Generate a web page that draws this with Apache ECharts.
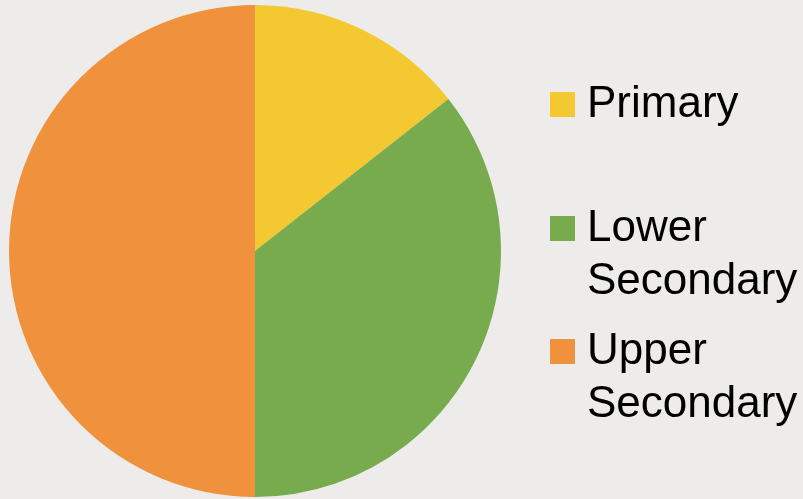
<!DOCTYPE html>
<html>
<head>
<meta charset="utf-8">
<script src="https://cdn.jsdelivr.net/npm/echarts@6/dist/echarts.min.js"></script>
<style>
  html, body { margin: 0; padding: 0; background: #edecea; }
  #chart { width: 803px; height: 499px; }
</style>
</head>
<body>
<div id="chart"></div>
<script>
const categories = ["Primary", "Lower Secondary", "Upper Secondary"];
// a leading blank line keeps the swatch level with the first line of text
const legendLabels = ["Primary", "\nLower\nSecondary", "\nUpper\nSecondary"];
const shares = [14.4, 35.6, 50];
const colors = ["#f4c830", "#77ab4d", "#f0923d"];

const chart = echarts.init(document.getElementById("chart"));

const lineH = 53;
const legendTops = [78, 149, 272];

const legends = categories.map((name, i) => ({
  orient: "vertical",
  left: 550,
  top: legendTops[i],
  padding: 0,
  itemWidth: 25,
  itemHeight: 25,
  icon: "rect",
  selectedMode: false,
  data: [name],
  formatter: () => legendLabels[i],
  textStyle: {
    fontFamily: "Liberation Sans, Arial, sans-serif",
    fontSize: 44,
    color: "#000",
    lineHeight: lineH,
    padding: [0, 0, 0, 7],
  },
}));

chart.setOption({
  backgroundColor: "#edecea",
  animation: false,
  color: colors,
  legend: legends,
  series: [
    {
      type: "pie",
      center: [255, 251],
      radius: 246,
      startAngle: 90,
      clockwise: true,
      label: { show: false },
      labelLine: { show: false },
      emphasis: { disabled: true },
      data: categories.map((name, i) => ({ name, value: shares[i] })),
    },
  ],
});
</script>
</body>
</html>
